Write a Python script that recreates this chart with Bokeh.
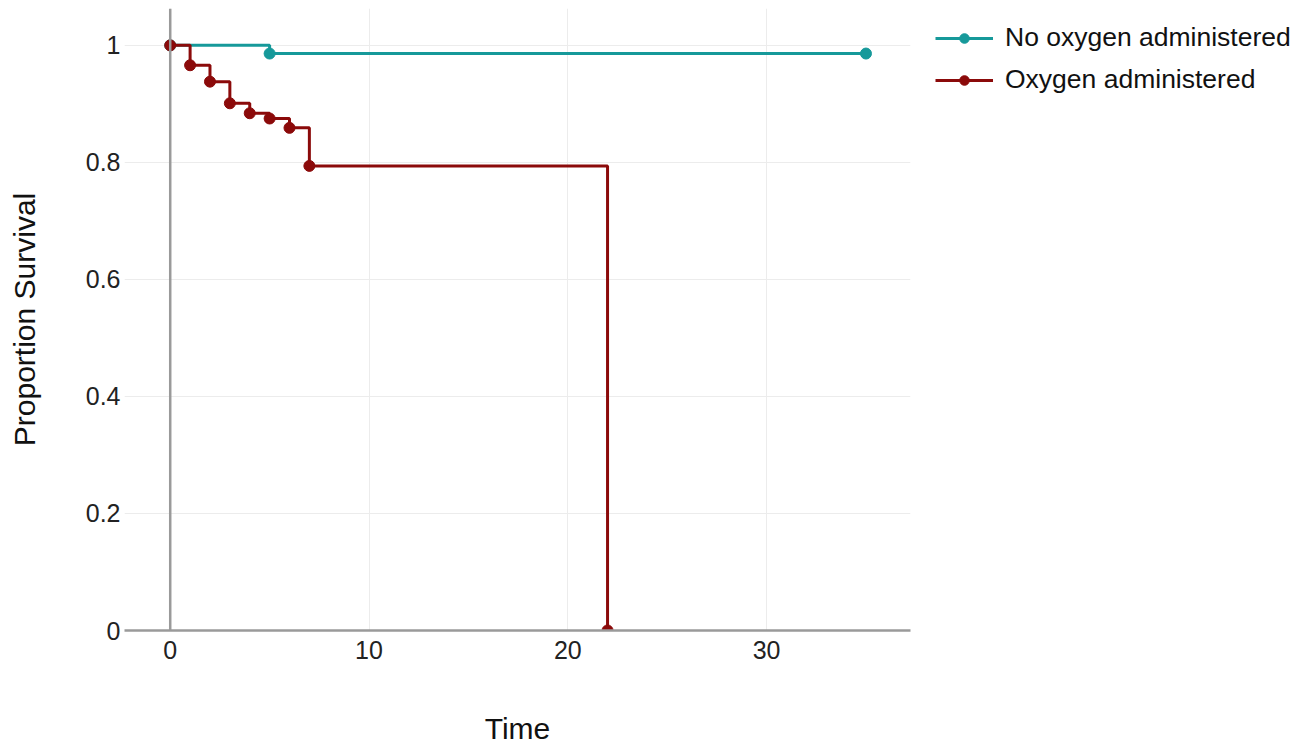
from bokeh.plotting import figure
from bokeh.models import Range1d, FixedTicker, Span, Legend, LegendItem
from bokeh.embed import file_html
from bokeh.resources import INLINE

# Data
x_ticks = [0, 10, 20, 30]
y_ticks = [0, 0.2, 0.4, 0.6, 0.8, 1.0]
y_tick_labels = {0: "0", 0.2: "0.2", 0.4: "0.4", 0.6: "0.6", 0.8: "0.8", 1.0: "1"}

no_oxy_time = [0, 5, 35]
no_oxy_surv = [1.0, 0.986, 0.986]

oxy_time = [0, 1, 2, 3, 4, 5, 6, 7, 22]
oxy_surv = [1.0, 0.966, 0.938, 0.901, 0.884, 0.875, 0.859, 0.794, 0.0]

TEAL = "#16999a"
RED = "#8b0a0a"
FONT = "Liberation Sans"

p = figure(frame_width=786, frame_height=622, output_backend="svg", toolbar_location=None,
           x_range=Range1d(-2.3, 37.24), y_range=Range1d(0, 1.063),
           min_border_left=124, min_border_right=391, min_border_top=8,
           min_border_bottom=100)
p.outline_line_color = None
p.background_fill_color = "white"

# grid
p.xgrid.ticker = FixedTicker(ticks=x_ticks)
p.ygrid.ticker = FixedTicker(ticks=y_ticks)
p.xgrid.grid_line_color = "#ececec"
p.ygrid.grid_line_color = "#ececec"
p.xgrid.grid_line_width = 1
p.ygrid.grid_line_width = 1

# axes
xa = p.xaxis[0]
xa.ticker = FixedTicker(ticks=x_ticks)
xa.axis_line_color = "#9a9a9a"
xa.axis_line_width = 2.5
xa.major_tick_line_color = None
xa.minor_tick_line_color = None
xa.major_tick_out = 0
xa.major_label_standoff = 10
xa.major_label_text_font = FONT
xa.major_label_text_font_size = "25px"
xa.major_label_text_color = "#222222"
xa.axis_label = "Time"
xa.axis_label_text_font = FONT
xa.axis_label_text_font_size = "30px"
xa.axis_label_text_font_style = "normal"
xa.axis_label_text_color = "#111111"
xa.axis_label_standoff = 50

ya = p.yaxis[0]
ya.ticker = FixedTicker(ticks=y_ticks)
ya.major_label_overrides = y_tick_labels
ya.axis_line_color = None
ya.major_tick_line_color = None
ya.minor_tick_line_color = None
ya.major_tick_out = 0
ya.major_label_standoff = 4
ya.major_label_text_font = FONT
ya.major_label_text_font_size = "25px"
ya.major_label_text_color = "#222222"
ya.axis_label = "Proportion Survival"
ya.axis_label_text_font = FONT
ya.axis_label_text_font_size = "30px"
ya.axis_label_text_font_style = "normal"
ya.axis_label_text_color = "#111111"
ya.axis_label_standoff = 42

# zero line at x=0
p.add_layout(Span(location=0, dimension="height", line_color="#9a9a9a", line_width=2.5))

# series
l1 = p.step(no_oxy_time, no_oxy_surv, mode="after", line_color=TEAL, line_width=3)
s1 = p.scatter(no_oxy_time, no_oxy_surv, size=11, color=TEAL)
l2 = p.step(oxy_time, oxy_surv, mode="after", line_color=RED, line_width=3)
s2 = p.scatter(oxy_time, oxy_surv, size=11, color=RED)

legend = Legend(items=[LegendItem(label="No oxygen administered", renderers=[l1, s1]),
                       LegendItem(label="Oxygen administered", renderers=[l2, s2])],
                location=(25, 535))
legend.border_line_color = None
legend.background_fill_alpha = 0
legend.label_text_font = FONT
legend.label_text_font_size = "26.5px"
legend.label_text_color = "#111111"
legend.glyph_width = 58
legend.glyph_height = 24
legend.label_height = 24
legend.label_standoff = 12
legend.spacing = 11
legend.padding = 0
legend.margin = 0
p.add_layout(legend, "right")

open("out.html", "w").write(file_html(p, INLINE))
